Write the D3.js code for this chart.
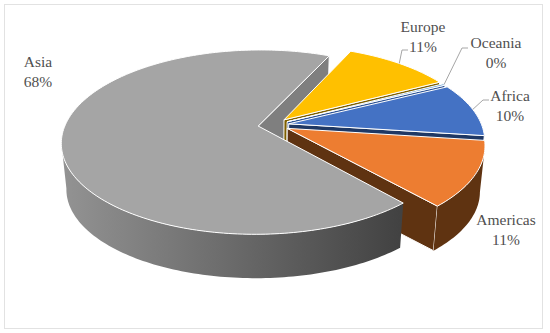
<!DOCTYPE html>
<html>
<head>
<meta charset="utf-8">
<script src="https://cdnjs.cloudflare.com/ajax/libs/d3/7.8.5/d3.min.js"></script>
<style>
  html, body { margin: 0; padding: 0; background: #fff; }
  svg { display: block; }
  text { font-family: "Liberation Serif", serif; font-size: 15.5px; fill: #505050; }
</style>
</head>
<body>
<div id="chart"></div>
<script>
const categories = ['Europe', 'Oceania', 'Africa', 'Americas', 'Asia'];
const shares = [10.5, 0.3, 9.5, 11.4, 68.3];

const topColors = ['#ffc000', '#5b9bd5', '#4472c4', '#ed7d31', '#a5a5a5'];
const wallColors = ['#7f6000', '#2f5597', '#1f3864', '#5f3311', '#7f7f7f'];

// label centre and leader elbow, null when the label has no leader
const labelX = [423, 496, 510, 506, 38];
const labelY = [32, 48, 101, 225, 67];
const leaderEnd = [[408, 50], [468, 48], [489, 100], null, null];

const width = 550, height = 333;
const startDeg = 24.4;

// projection of the pie plane, fitted by eye
const cx = 273.5, cy = 125, rx = 193, ry = 89, persp = 0.174;
const explode = 0.08;
const shrink = 0.976, depth = 46.5;

const svg = d3.select('#chart').append('svg')
  .attr('width', width)
  .attr('height', height);

const grad = svg.append('defs').append('linearGradient')
  .attr('id', 'asiaWall')
  .attr('gradientUnits', 'userSpaceOnUse')
  .attr('x1', 66).attr('x2', 400).attr('y1', 0).attr('y2', 0);
grad.append('stop').attr('offset', '0').attr('stop-color', '#929292');
grad.append('stop').attr('offset', '1').attr('stop-color', '#424242');

svg.append('rect')
  .attr('x', 4.5).attr('y', 4.5)
  .attr('width', 538).attr('height', 324)
  .attr('fill', '#fff')
  .attr('stroke', '#e2e2e2')
  .attr('stroke-width', 1);

const pie = d3.pie()
  .sort(null)
  .startAngle(startDeg * Math.PI / 180)
  .endAngle((startDeg + 360) * Math.PI / 180)
  .value(d => d.share);

const slices = pie(categories.map((name, i) => ({name, share: shares[i], i})));

function project(u, v) {
  const w = 1 + persp * v;
  return [cx + rx * u / w, cy - ry * v / w];
}

function lower(p) {
  return [cx + (p[0] - cx) * shrink, cy + (p[1] - cy) * shrink + depth];
}

function offset(d) {
  const mid = (d.startAngle + d.endAngle) / 2;
  return [explode * Math.sin(mid), explode * Math.cos(mid)];
}

function rimPoint(d, a) {
  const o = offset(d);
  return project(o[0] + Math.sin(a), o[1] + Math.cos(a));
}

function rimAngles(d) {
  const n = Math.max(2, Math.ceil((d.endAngle - d.startAngle) / 0.02));
  return d3.range(n + 1).map(i => d.startAngle + (d.endAngle - d.startAngle) * i / n);
}

const line = d3.line();

function closed(points) {
  return line(points) + 'Z';
}

function addPath(g, path, fill, stroke) {
  g.append('path')
    .attr('d', path)
    .attr('fill', fill)
    .attr('stroke', stroke || '#fff')
    .attr('stroke-width', 1)
    .attr('stroke-linejoin', 'round');
}

function drawEndWall(g, d) {
  // only the closing edge faces the viewer on this side of the pie
  if (Math.sin(d.endAngle) <= 0) return;
  const o = offset(d);
  const apex = project(o[0], o[1]);
  const rim = rimPoint(d, d.endAngle);
  addPath(g, closed([apex, rim, lower(rim), lower(apex)]), wallColors[d.data.i]);
}

function drawOuterWall(g, d, fill) {
  // stop at the widest point so the closing edge is the silhouette
  const front = rimAngles(d).filter(a => Math.cos(a) < -persp).map(a => rimPoint(d, a));
  if (front.length < 2) return;
  addPath(g, closed(front.concat(front.map(lower).reverse())), fill, 'none');
}

function drawTop(g, d) {
  const o = offset(d);
  const pts = [project(o[0], o[1])].concat(rimAngles(d).map(a => rimPoint(d, a)));
  addPath(g, closed(pts), topColors[d.data.i]);
}

const pieG = svg.append('g').attr('class', 'pie3d');
const asia = slices[slices.length - 1];

// the notch wall sits behind everything else
drawEndWall(pieG, asia);

slices.slice(0, -1).forEach(d => {
  drawEndWall(pieG, d);
  drawOuterWall(pieG, d, wallColors[d.data.i]);
  drawTop(pieG, d);
});

drawOuterWall(pieG, asia, 'url(#asiaWall)');
drawTop(pieG, asia);

// leader lines
slices.forEach(d => {
  const end = leaderEnd[d.data.i];
  if (!end) return;
  const start = rimPoint(d, (d.startAngle + d.endAngle) / 2);
  svg.append('path')
    .attr('d', line([start, [end[0] - 6, end[1]], end]))
    .attr('fill', 'none')
    .attr('stroke', '#a6a6a6')
    .attr('stroke-width', 1);
});

const labels = svg.append('g').selectAll('text')
  .data(slices)
  .enter().append('text')
  .attr('text-anchor', 'middle')
  .attr('x', d => labelX[d.data.i])
  .attr('y', d => labelY[d.data.i]);

labels.append('tspan')
  .attr('x', d => labelX[d.data.i])
  .text(d => d.data.name);

labels.append('tspan')
  .attr('x', d => labelX[d.data.i])
  .attr('dy', 19.5)
  .text(d => Math.round(d.data.share) + '%');
</script>
</body>
</html>
